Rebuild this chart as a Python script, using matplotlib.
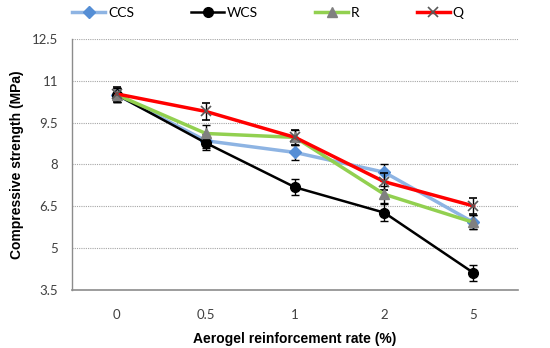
import matplotlib
matplotlib.use("Agg")
import matplotlib.pyplot as plt
from matplotlib.lines import Line2D
import numpy as np

categories = ["0", "0.5", "1", "2", "5"]
ccs = [10.5, 8.85, 8.43, 7.72, 5.92]
wcs = [10.5, 8.77, 7.18, 6.27, 4.11]
r_vals = [10.5, 9.11, 8.97, 6.93, 5.92]
q_vals = [10.53, 9.9, 8.97, 7.38, 6.51]
ccs_err = [0.25, 0.25, 0.28, 0.3, 0.25]
wcs_err = [0.25, 0.25, 0.28, 0.3, 0.28]
r_err = [0.25, 0.3, 0.28, 0.3, 0.25]
q_err = [0.25, 0.32, 0.28, 0.3, 0.3]
yticks = [3.5, 5, 6.5, 8, 9.5, 11, 12.5]
series_names = ["CCS", "WCS", "R", "Q"]

fig = plt.figure(figsize=(5.5, 3.48), dpi=100)
ax = fig.add_axes([0.131, 0.167, 0.811, 0.721])
x = np.arange(len(categories))

tick_font = "Lato"

styles = [
    dict(color="#8EB4E3", lw=2.5, marker="D", ms=6, mfc="#558ED5", mec="#558ED5"),
    dict(color="black", lw=1.8, marker="o", ms=7, mfc="black", mec="black"),
    dict(color="#92D050", lw=2.5, marker="^", ms=7, mfc="#808080", mec="#808080"),
    dict(color="#FF0000", lw=2.5, marker="x", ms=7, mfc="#595959", mec="#595959", mew=1.2),
]
data = [(ccs, ccs_err), (wcs, wcs_err), (r_vals, r_err), (q_vals, q_err)]
handles = []
for i, ((vals, err), st, name) in enumerate(zip(data, styles, series_names)):
    ax.errorbar(x, vals, yerr=err, ecolor="black", elinewidth=1, capsize=3,
                capthick=1, zorder=3 + i * 0.1, **st)
    handles.append(Line2D([], [], **st))

ax.set_xlim(-0.5, 4.5)
ax.set_ylim(3.5, 12.5)
ax.set_yticks(yticks)
ax.set_yticklabels([f"{t:g}" for t in yticks], fontfamily=tick_font, fontsize=9.5, color="#404040")
ax.set_xticks(x)
ax.set_xticklabels(categories, fontfamily=tick_font, fontsize=9.5, color="#404040")
ax.tick_params(axis="x", length=0, pad=14)
ax.tick_params(axis="y", length=0, pad=10)
ax.yaxis.grid(True, linestyle=(0, (1, 1)), color="#A6A6A6", lw=0.8)
ax.set_axisbelow(True)
for s in ["top", "right"]:
    ax.spines[s].set_visible(False)
ax.spines["left"].set_color("#8C8C8C")
ax.spines["bottom"].set_color("#8C8C8C")
ax.spines["left"].set_linewidth(1)
ax.spines["bottom"].set_linewidth(1.2)

ax.set_xlabel("Aerogel reinforcement rate (%)", fontfamily="Liberation Sans",
              fontweight="bold", fontsize=10, labelpad=8)
ax.set_ylabel("Compressive strength (MPa)", fontfamily="Liberation Sans",
              fontweight="bold", fontsize=10, labelpad=6)

fig.legend(handles, series_names, loc="center", bbox_to_anchor=(0.487, 0.962), ncol=4,
           frameon=False, prop={"family": tick_font, "size": 10},
           columnspacing=4.1, handlelength=2.4, handletextpad=0.2)

fig.savefig("out.png", dpi=100)
